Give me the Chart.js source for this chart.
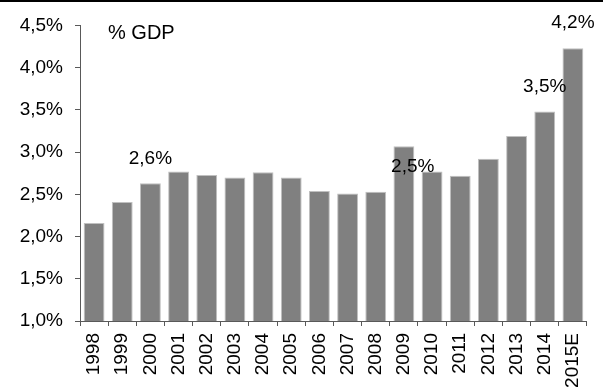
<!DOCTYPE html>
<html>
<head>
<meta charset="utf-8">
<script src="https://cdn.jsdelivr.net/npm/chart.js@4"></script>
<style>
  html, body { margin: 0; padding: 0; background: #fff; }
  #wrap { width: 603px; height: 389px; border-top: 2px solid #000; }
</style>
</head>
<body>
<div id="wrap"><canvas id="gdpChart" width="603" height="389"></canvas></div>
<script>
// spending as % of GDP, 1998 - 2015 estimate
const years = ['1998', '1999', '2000', '2001', '2002', '2003', '2004', '2005', '2006',
               '2007', '2008', '2009', '2010', '2011', '2012', '2013', '2014', '2015E'];
const shareOfGdp = [2.16, 2.41, 2.63, 2.77, 2.73, 2.70, 2.76, 2.70, 2.54,
                    2.51, 2.53, 3.07, 2.77, 2.72, 2.92, 3.19, 3.48, 4.23];
const labelledYears = ['2000', '2008', '2014', '2015E'];
const yTicks = [1.0, 1.5, 2.0, 2.5, 3.0, 3.5, 4.0, 4.5];

const fmt = v => v.toFixed(1).replace('.', ',') + '%';
const FONT = 'Liberation Sans, Arial, sans-serif';

// value labels above selected bars plus the "% GDP" note
const labelPlugin = {
    id: 'valueLabels',
    afterDatasetsDraw(chart) {
        const ctx = chart.ctx;
        const meta = chart.getDatasetMeta(0);
        ctx.save();
        ctx.fillStyle = '#000';
        ctx.font = '19px ' + FONT;
        ctx.textAlign = 'center';
        ctx.textBaseline = 'middle';
        labelledYears.forEach(y => {
            const i = years.indexOf(y);
            const bar = meta.data[i];
            const dx = y === '2008' ? 37 : 0;
            ctx.fillText(fmt(shareOfGdp[i]), bar.x + dx, bar.y - 25);
        });
        ctx.textAlign = 'left';
        ctx.font = '20px ' + FONT;
        ctx.fillText('% GDP', chart.chartArea.left + 28, chart.chartArea.top + 8);
        ctx.restore();
    }
};

const ctx = document.getElementById('gdpChart').getContext('2d');
const gdpChart = new Chart(ctx, {
    type: 'bar',
    data: {
        labels: years,
        datasets: [{
            data: shareOfGdp,
            backgroundColor: '#808080',
            borderColor: '#c0c0c0',
            borderWidth: 1,
            categoryPercentage: 1,
            barPercentage: 0.74
        }]
    },
    options: {
        responsive: false,
        animation: false,
        layout: { padding: { top: 22, right: 11, left: 0, bottom: 0 } },
        plugins: {
            legend: { display: false },
            tooltip: { enabled: false }
        },
        scales: {
            x: {
                afterFit: s => { s.height = 70; },
                grid: {
                    drawOnChartArea: false,
                    color: '#595959',
                    tickLength: 5
                },
                border: { color: '#595959', width: 1 },
                ticks: {
                    color: '#000',
                    font: { family: FONT, size: 19 },
                    minRotation: 90,
                    maxRotation: 90,
                    padding: 7,
                    autoSkip: false
                }
            },
            y: {
                min: 1.0,
                max: 4.5,
                afterFit: s => { s.width = 80; },
                afterBuildTicks: s => { s.ticks = yTicks.map(v => ({ value: v })); },
                grid: {
                    drawOnChartArea: false,
                    color: '#595959',
                    tickLength: 5
                },
                border: { color: '#595959', width: 1 },
                ticks: {
                    color: '#000',
                    font: { family: FONT, size: 19 },
                    padding: 12,
                    callback: v => fmt(v)
                }
            }
        }
    },
    plugins: [labelPlugin]
});
</script>
</body>
</html>
